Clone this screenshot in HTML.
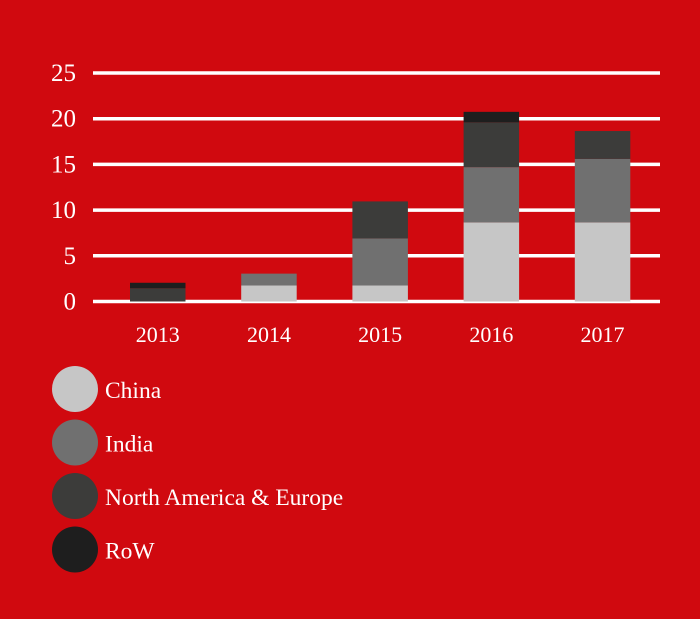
<!DOCTYPE html>
<html><head><meta charset="utf-8"><style>
html,body{margin:0;padding:0;background:#d0090f;}
svg{display:block;font-family:"Liberation Serif",serif;}
</style></head><body>
<svg width="700" height="619" viewBox="0 0 700 619">
<rect width="700" height="619" fill="#d0090f"/>
<g id="grid"></g><g id="bars"></g><g id="axes"></g><g id="legend"></g>
</svg>
<script>
const categories=["2013","2014","2015","2016","2017"];
const seriesNames=["China","India","North America & Europe","RoW"];
const china=[0,1.75,1.75,8.65,8.65];
const india=[0,1.3,5.15,6.05,6.95];
const nae=[1.45,0,4.05,4.9,3.05];
const row=[0.6,0,0,1.15,0];
const yTicks=[0,5,10,15,20,25];
const colors=["#c6c6c6","#707070","#3c3c3a","#1e1e1e"];
const NS="http://www.w3.org/2000/svg";
const y0=301.5,pxPerUnit=9.14;
function y(v){return y0-v*pxPerUnit;}
function x(i){return 130+i*111.2;}
const bw=55.5;
const grid=document.getElementById('grid'),bars=document.getElementById('bars'),axes=document.getElementById('axes'),legend=document.getElementById('legend');
function mk(t,a,p){const e=document.createElementNS(NS,t);for(const k in a)e.setAttribute(k,a[k]);p.appendChild(e);return e;}
yTicks.forEach(t=>{
 const l=mk('line',{x1:93,x2:660,y1:y(t),y2:y(t),stroke:'#fff','stroke-width':3.5},grid);
 
 
 const tx=mk('text',{x:76,y:y(t)+8,'text-anchor':'end','font-size':25,fill:'#fff'},axes);
 tx.textContent=t;
 
 
});
const series=[china,india,nae,row];
categories.forEach((c,i)=>{
 let acc=0;
 series.forEach((s,k)=>{
  const v=s[i]; if(v<=0)return;
  const r=mk('rect',{x:x(i),y:y(acc+v),width:bw,height:v*pxPerUnit,fill:colors[k]},bars);
  
  
  acc+=v;
 });
 const t=mk('text',{x:x(i)+bw/2,y:342,'text-anchor':'middle','font-size':22,fill:'#fff'},axes);
 t.textContent=c;
 
 
});
seriesNames.forEach((n,k)=>{
 const cy=389+k*53.5;
 const ci=mk('circle',{cx:75,cy:cy,r:23,fill:colors[k]},legend);
 
 
 const t=mk('text',{x:105,y:cy+9,'font-size':23.5,fill:'#fff'},legend);
 t.textContent=n;
 
 
});
</script>
</body></html>
